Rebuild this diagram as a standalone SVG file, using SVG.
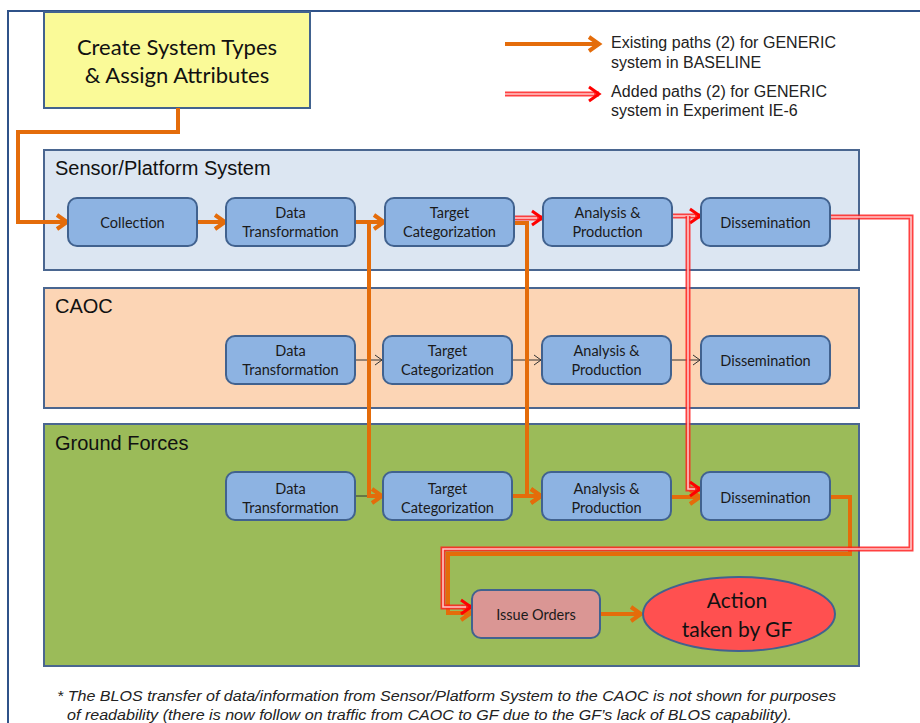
<svg xmlns="http://www.w3.org/2000/svg" width="920" height="723" viewBox="0 0 920 723">
<style>
.band{stroke:#4A6690;stroke-width:2}
.bt{font-family:"Liberation Sans",Arial,sans-serif;font-size:20px;fill:#111}
.node{fill:#8DB3E2;stroke:#41628F;stroke-width:2}
.nt{font-family:Lato,"Open Sans",sans-serif;font-size:14.5px;fill:#1a1a1a;text-anchor:middle}
.o{fill:none;stroke:#E46C0A;stroke-width:4;marker-end:url(#ao)}
.ro{fill:none;stroke:#FF2020;stroke-width:5;stroke-opacity:0.85;marker-end:url(#ar)}
.ri{fill:none;stroke:#FFC8C8;stroke-width:1.6}
.k{fill:none;stroke:#333;stroke-width:1;marker-end:url(#ak)}
.lg{font-family:"Liberation Sans",Arial,sans-serif;font-size:16px;fill:#222}
.fn{font-family:"Liberation Sans",Arial,sans-serif;font-size:14px;font-style:italic;fill:#222}
</style>
<defs>
<marker id="ao" markerUnits="userSpaceOnUse" markerWidth="20" markerHeight="20" refX="14" refY="10" orient="auto">
<path d="M4,3 L14,10 L4,17" fill="none" stroke="#E46C0A" stroke-width="4"/>
</marker>
<marker id="ar" markerUnits="userSpaceOnUse" markerWidth="20" markerHeight="20" refX="14" refY="10" orient="auto">
<path d="M4,3 L14,10 L4,17" fill="none" stroke="#FF0000" stroke-width="3"/>
</marker>
<marker id="ak" markerUnits="userSpaceOnUse" markerWidth="12" markerHeight="12" refX="9" refY="6" orient="auto">
<path d="M2,1 L9,6 L2,11" fill="none" stroke="#333" stroke-width="1"/>
</marker>
</defs>
<rect x="0" y="0" width="920" height="723" fill="#fff"/>
<rect x="8" y="11" width="930" height="730" fill="none" stroke="#2F5289" stroke-width="2"/>

<g id="band-sensor"><rect class="band" x="44" y="150" width="815" height="120" fill="#DCE6F2"/><text class="bt" x="55" y="175">Sensor/Platform System</text></g>
<g id="band-caoc"><rect class="band" x="44" y="288" width="815" height="120" fill="#FCD5B5"/><text class="bt" x="55" y="313">CAOC</text></g>
<g id="band-gf"><rect class="band" x="44" y="424" width="815" height="242" fill="#9BBB59"/><text class="bt" x="55" y="450">Ground Forces</text></g>

<g id="create"><rect x="44" y="12" width="266" height="96" fill="#FAFA98" stroke="#41628F" stroke-width="2"/>
<text x="177" y="55" font-family="Lato,'Open Sans',sans-serif" font-size="22px" fill="#111" text-anchor="middle">Create System Types</text>
<text x="177" y="83" font-family="Lato,'Open Sans',sans-serif" font-size="22px" fill="#111" text-anchor="middle">&amp; Assign Attributes</text></g>

<g id="legend">
<path class="o" d="M505,44 H599"/>
<path class="ro" d="M505,94 H599"/><path class="ri" d="M505,94 H594"/>
<text class="lg" x="611" y="48" textLength="225" lengthAdjust="spacing">Existing paths (2) for GENERIC</text>
<text class="lg" x="611" y="68">system in BASELINE</text>
<text class="lg" x="611" y="97" textLength="216" lengthAdjust="spacing">Added paths (2) for GENERIC</text>
<text class="lg" x="611" y="116">system in Experiment IE-6</text>
</g>

<g id="connectors">
<path class="k" d="M355,360 H382"/>
<path class="k" d="M512,360 H541"/>
<path class="k" d="M671,360 H700"/>
<path class="k" d="M355,496 H382"/>
<path class="o" d="M178,108 V132 H18 V222 H67"/>
<path class="o" d="M197,222 H225"/>
<path class="o" d="M355,222 H384"/>
<path class="o" d="M369,222 V496 H382"/>
<path class="o" d="M514,223 H527 V496 H541"/>
<path class="o" d="M512,496 H541"/>
<path class="o" d="M671,497 H700"/>
<path class="o" d="M830,497 H850 V554 H448 V613 H471"/>
<path class="o" d="M600,614 H641"/>
<path class="ro" d="M514,218 H542"/><path class="ri" d="M514,218 H537"/>
<path class="ro" d="M672,216 H700"/><path class="ri" d="M672,216 H695"/>
<path class="ro" d="M688,216 V489 H700" stroke-opacity="0.6"/><path class="ri" d="M688,216 V489 H695"/>
<path class="ro" d="M830,217 H911 V549 H443 V607 H471"/><path class="ri" d="M830,217 H911 V549 H443 V607 H466"/>
</g>

<g id="n-collection"><rect class="node" x="68" y="198" width="129" height="48" rx="9"/><text class="nt" x="132.5" y="228">Collection</text></g>
<g id="n-dt1"><rect class="node" x="226" y="198" width="129" height="48" rx="9"/><text class="nt" x="290.5" y="218">Data</text><text class="nt" x="290.5" y="237">Transformation</text></g>
<g id="n-tc1"><rect class="node" x="385" y="198" width="129" height="48" rx="9"/><text class="nt" x="449.5" y="218">Target</text><text class="nt" x="449.5" y="237">Categorization</text></g>
<g id="n-ap1"><rect class="node" x="543" y="198" width="129" height="48" rx="9"/><text class="nt" x="607.5" y="218">Analysis &amp;</text><text class="nt" x="607.5" y="237">Production</text></g>
<g id="n-dis1"><rect class="node" x="701" y="198" width="129" height="48" rx="9"/><text class="nt" x="765.5" y="228">Dissemination</text></g>

<g id="n-dt2"><rect class="node" x="226" y="336" width="129" height="48" rx="9"/><text class="nt" x="290.5" y="356">Data</text><text class="nt" x="290.5" y="375">Transformation</text></g>
<g id="n-tc2"><rect class="node" x="383" y="336" width="129" height="48" rx="9"/><text class="nt" x="447.5" y="356">Target</text><text class="nt" x="447.5" y="375">Categorization</text></g>
<g id="n-ap2"><rect class="node" x="542" y="336" width="129" height="48" rx="9"/><text class="nt" x="606.5" y="356">Analysis &amp;</text><text class="nt" x="606.5" y="375">Production</text></g>
<g id="n-dis2"><rect class="node" x="701" y="336" width="129" height="48" rx="9"/><text class="nt" x="765.5" y="366">Dissemination</text></g>

<g id="n-dt3"><rect class="node" x="226" y="472" width="129" height="48" rx="9"/><text class="nt" x="290.5" y="494">Data</text><text class="nt" x="290.5" y="513">Transformation</text></g>
<g id="n-tc3"><rect class="node" x="383" y="472" width="129" height="48" rx="9"/><text class="nt" x="447.5" y="494">Target</text><text class="nt" x="447.5" y="513">Categorization</text></g>
<g id="n-ap3"><rect class="node" x="542" y="472" width="129" height="48" rx="9"/><text class="nt" x="606.5" y="494">Analysis &amp;</text><text class="nt" x="606.5" y="513">Production</text></g>
<g id="n-dis3"><rect class="node" x="701" y="472" width="129" height="48" rx="9"/><text class="nt" x="765.5" y="503">Dissemination</text></g>

<g id="n-issue"><rect x="472" y="590" width="128" height="48" rx="9" fill="#DA9694" stroke="#41628F" stroke-width="2"/><text class="nt" x="536" y="620">Issue Orders</text></g>
<g id="n-action"><ellipse cx="739" cy="614" rx="96" ry="37" fill="#FF5050" stroke="#41628F" stroke-width="2"/>
<text x="737" y="608" font-family="Lato,'Open Sans',sans-serif" font-size="21px" fill="#111" text-anchor="middle">Action</text>
<text x="737" y="637" font-family="Lato,'Open Sans',sans-serif" font-size="21px" fill="#111" text-anchor="middle">taken by GF</text></g>

<g id="footnote">
<text class="fn" x="57" y="701" textLength="779" lengthAdjust="spacingAndGlyphs">* The BLOS transfer of data/information from Sensor/Platform System to the CAOC is not shown for purposes</text>
<text class="fn" x="67" y="720" textLength="725" lengthAdjust="spacingAndGlyphs">of readability (there is now follow on traffic from CAOC to GF due to the GF’s lack of BLOS capability).</text>
</g>
</svg>
